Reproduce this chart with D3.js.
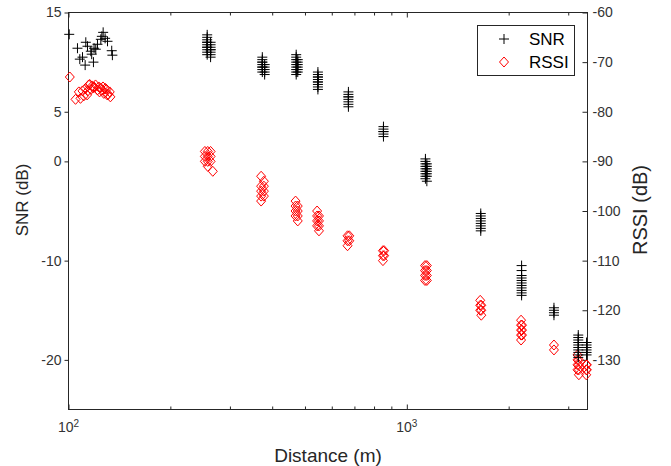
<!DOCTYPE html>
<html>
<head>
<meta charset="utf-8">
<script src="https://cdn.jsdelivr.net/npm/d3@7"></script>
<style>
  body { margin: 0; background: #fff; }
  svg { display: block; font-family: "Liberation Sans", Arial, sans-serif; }
</style>
</head>
<body>
<section></section>
<script>
"use strict";

//Figure size and plot box
const w = 671;
const h = 466;
const box = { left: 68.5, right: 587.5, top: 12.5, bottom: 409.5 };
const axisColor = "#262626";

//Near field points (distance, value), scattered between 100 and 135 m
const nearSnr = [
  [100.5, 12.8], [106.3, 11.4], [112.5, 12.0], [113.8, 11.6], [110, 10.5],
  [108, 10.3], [112, 9.7], [118.5, 10.0], [116.4, 11.1], [119, 11.4],
  [120.4, 11.3], [121.8, 11.8], [124.6, 12.3], [126.6, 13.0], [128.3, 12.4],
  [130.4, 12.1], [134.2, 11.15], [134.8, 10.7], [117.1, 10.8], [125.5, 12.6],
];
const nearRssi = [
  [100.9, -73], [104.9, -77.5], [107.3, -76], [108.5, -77.3], [111, -76.8],
  [112.3, -75.3], [113.5, -76.6], [114.8, -74.6], [117.5, -74.8], [120.2, -74.6],
  [122.9, -75], [125.8, -75.6], [127.2, -76.3], [128.6, -75.3], [130.1, -76.6],
  [132.4, -76], [133, -77], [118.5, -75.2], [121.8, -75.6], [124.3, -75.2],
  [115.5, -74.5], [116.5, -75.5], [119, -75], [123.5, -76], [126.5, -75],
  [129.5, -75.5], [131, -76.5], [110, -75.8], [114, -75.8],
];

//Measurement positions further out, SNR in dB
const snrDistances = [257, 263, 374, 380, 471, 476, 546, 672, 853, 1135, 1146, 1654, 2184, 2722, 3212, 3398];
const snrGroups = [
  [12.75, 12.5, 12.25, 12.0, 11.75, 11.5, 11.25, 11.0, 10.75, 12.0, 11.5],
  [12.0, 11.75, 11.5, 11.25, 11.0, 10.75, 10.5, 11.25],
  [10.5, 10.25, 10.0, 9.75, 9.5, 9.25, 9.0, 10.0, 9.5],
  [9.75, 9.5, 9.25, 9.0, 8.75],
  [10.75, 10.5, 10.25, 10.0, 9.75, 9.5, 9.25, 9.0, 8.75],
  [10.25, 10.0, 9.75, 9.5, 9.25, 9.0],
  [9.0, 8.75, 8.5, 8.25, 8.0, 7.75, 7.5, 7.25, 8.5, 8.0],
  [7.0, 6.75, 6.5, 6.25, 6.0, 5.75, 5.5, 6.5],
  [3.5, 3.25, 3.0, 2.75, 2.5, 3.0],
  [0.25, 0, -0.25, -0.5, -0.75, -1.0, -1.25, -1.5, -1.75],
  [-0.25, -0.5, -0.75, -1.0, -1.25, -1.5, -2.0],
  [-5.25, -5.5, -5.75, -6.0, -6.25, -6.5, -6.75, -7.0],
  [-10.5, -11.0, -11.5, -11.75, -12.0, -12.25, -12.5, -12.75, -13.0, -13.25, -13.5],
  [-14.75, -15.0, -15.25, -15.5],
  [-17.5, -17.75, -18.0, -18.25, -18.5, -18.75, -19.0, -19.25, -19.5, -19.75],
  [-18.25, -18.5, -18.75, -19.0, -19.25, -19.5],
];

//RSSI in dB
const rssiDistances = [
  253, 258, 263, 267, 371, 378, 469, 476, 543, 550, 668, 676, 850,
  857, 1132, 1146, 1648, 1660, 2176, 2190, 2722, 3195, 3225, 3390, 3405,
];
const rssiGroups = [
  [-88, -89, -90],
  [-88, -89, -90, -91],
  [-88, -89, -90],
  [-92],
  [-93, -95, -96, -97, -98],
  [-94, -95, -96, -97],
  [-98, -99, -100, -101],
  [-99, -100, -101, -102],
  [-100, -101, -102, -103],
  [-101, -102, -103, -104],
  [-105, -106, -107],
  [-105, -106],
  [-108, -109, -110],
  [-108, -109],
  [-111, -112, -113, -114],
  [-111, -112, -113, -114],
  [-118, -119, -120],
  [-119, -120, -121],
  [-122, -123, -124, -125, -126],
  [-123, -124, -125],
  [-127, -128],
  [-129, -130, -131, -132],
  [-130, -131, -132, -133],
  [-131, -132, -133],
  [-131, -132],
];

//Tick values
const snrTicks = [15, 5, 0, -10, -20];
const rssiTicks = [-60, -70, -80, -90, -100, -110, -120, -130];
const majorTicks = [100, 1000];
const minorTicks = [200, 300, 400, 500, 600, 700, 800, 900, 2000, 3000];

//Flatten groups into points
const snrPoints = nearSnr.concat(
  snrGroups.flatMap((vals, i) => vals.map((v) => [snrDistances[i], v]))
);
const rssiPoints = nearRssi.concat(
  rssiGroups.flatMap((vals, i) => vals.map((v) => [rssiDistances[i], v]))
);

const svg = d3.select("section").append("svg").attr("width", w).attr("height", h);
svg.append("rect").attr("width", w).attr("height", h).attr("fill", "#fff");

//Scales
const xScale = d3.scaleLog().domain([100, 3420]).range([box.left, box.right]);
const ySnr = d3.scaleLinear().domain([-25, 15]).range([box.bottom, box.top]);
const yRssi = d3.scaleLinear().domain([-140, -60]).range([box.bottom, box.top]);

const styleAxis = (g) => {
  g.select(".domain").remove();
  g.selectAll(".tick line").attr("stroke", axisColor);
  g.selectAll(".tick text").attr("fill", "#333").attr("font-size", 14);
  g.attr("font-family", null);
};

//Bottom and top axes, ticks point inward
svg
  .append("g")
  .attr("transform", `translate(0, ${box.bottom})`)
  .call(d3.axisBottom(xScale).tickValues(majorTicks).tickSize(-5).tickSizeOuter(0).tickFormat(""))
  .call(styleAxis);
svg
  .append("g")
  .attr("transform", `translate(0, ${box.bottom})`)
  .call(d3.axisBottom(xScale).tickValues(minorTicks).tickSize(-3).tickSizeOuter(0).tickFormat(""))
  .call(styleAxis);
svg
  .append("g")
  .attr("transform", `translate(0, ${box.top})`)
  .call(d3.axisTop(xScale).tickValues(majorTicks).tickSize(-5).tickSizeOuter(0).tickFormat(""))
  .call(styleAxis);
svg
  .append("g")
  .attr("transform", `translate(0, ${box.top})`)
  .call(d3.axisTop(xScale).tickValues(minorTicks).tickSize(-3).tickSizeOuter(0).tickFormat(""))
  .call(styleAxis);

//Power of ten labels
const xLabels = svg
  .append("g")
  .selectAll("text")
  .data(majorTicks)
  .enter()
  .append("text")
  .attr("x", (d) => xScale(d))
  .attr("y", 432)
  .attr("text-anchor", "middle")
  .attr("fill", "#333")
  .attr("font-size", 14);
xLabels.append("tspan").text("10");
xLabels
  .append("tspan")
  .attr("dy", -5)
  .attr("font-size", 10)
  .text((d) => Math.round(Math.log10(d)));

//Left axis (SNR), ticks outward
svg
  .append("g")
  .attr("transform", `translate(${box.left}, 0)`)
  .call(d3.axisLeft(ySnr).tickValues(snrTicks).tickSize(4).tickPadding(3).tickSizeOuter(0).tickFormat((d) => String(d)))
  .call(styleAxis);

//Right axis (RSSI), ticks inward
svg
  .append("g")
  .attr("transform", `translate(${box.right}, 0)`)
  .call(d3.axisRight(yRssi).tickValues(rssiTicks).tickSize(-5).tickPadding(5).tickSizeOuter(0).tickFormat((d) => String(d)))
  .call(styleAxis);

//Plot box
svg
  .append("rect")
  .attr("x", box.left)
  .attr("y", box.top)
  .attr("width", box.right - box.left)
  .attr("height", box.bottom - box.top)
  .attr("fill", "none")
  .attr("stroke", axisColor)
  .attr("shape-rendering", "crispEdges");

//Axis titles
svg
  .append("text")
  .attr("x", (box.left + box.right) / 2)
  .attr("y", 461.5)
  .attr("text-anchor", "middle")
  .attr("font-size", 19)
  .attr("fill", "#262626")
  .text("Distance (m)");
svg
  .append("text")
  .attr("transform", "translate(28, 200) rotate(-90)")
  .attr("text-anchor", "middle")
  .attr("font-size", 17)
  .attr("fill", "#262626")
  .text("SNR (dB)");
svg
  .append("text")
  .attr("transform", "translate(647, 210) rotate(-90)")
  .attr("text-anchor", "middle")
  .attr("font-size", 20)
  .attr("fill", "#262626")
  .text("RSSI (dB)");

//Marker shapes
const plusPath = "M-5,0H5M0,-5V5";
const diamondPath = "M0,-5L4.5,0L0,5L-4.5,0Z";

//RSSI diamonds
svg
  .append("g")
  .selectAll("path")
  .data(rssiPoints)
  .enter()
  .append("path")
  .attr("d", diamondPath)
  .attr("transform", (d) => `translate(${xScale(d[0])}, ${yRssi(d[1])})`)
  .attr("fill", "none")
  .attr("stroke", "#ff0000")
  .attr("stroke-width", 1);

//SNR pluses
svg
  .append("g")
  .selectAll("path")
  .data(snrPoints)
  .enter()
  .append("path")
  .attr("d", plusPath)
  .attr("transform", (d) => `translate(${xScale(d[0])}, ${ySnr(d[1])})`)
  .attr("fill", "none")
  .attr("stroke", "#000")
  .attr("stroke-width", 1);

//Legend
const legend = svg.append("g").attr("transform", "translate(477.5, 25.5)");
legend
  .append("rect")
  .attr("width", 97)
  .attr("height", 50)
  .attr("fill", "#fff")
  .attr("stroke", axisColor);
legend.append("path").attr("d", plusPath).attr("transform", "translate(26.5, 13.5)").attr("stroke", "#000");
legend
  .append("path")
  .attr("d", diamondPath)
  .attr("transform", "translate(26.5, 36.5)")
  .attr("fill", "none")
  .attr("stroke", "#ff0000");
legend.append("text").attr("x", 51.5).attr("y", 19.5).attr("font-size", 17).text("SNR");
legend.append("text").attr("x", 51.5).attr("y", 42.5).attr("font-size", 17).text("RSSI");
</script>
</body>
</html>
